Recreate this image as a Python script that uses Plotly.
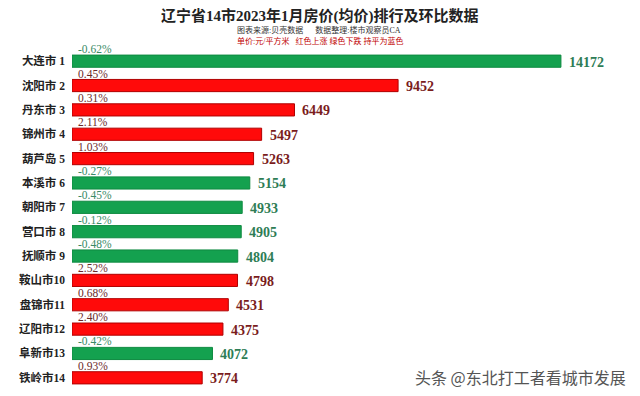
import plotly.graph_objects as go

cities = ["大连市 1", "沈阳市 2", "丹东市 3", "锦州市 4", "葫芦岛 5", "本溪市 6", "朝阳市 7",
          "营口市 8", "抚顺市 9", "鞍山市10", "盘锦市11", "辽阳市12", "阜新市13", "铁岭市14"]
prices = [14172, 9452, 6449, 5497, 5263, 5154, 4933, 4905, 4804, 4798, 4531, 4375, 4072, 3774]
changes = [-0.62, 0.45, 0.31, 2.11, 1.03, -0.27, -0.45, -0.12, -0.48, 2.52, 0.68, 2.40, -0.42, 0.93]

GREEN = "#14a14f"
RED = "#ff0a0a"
bar_colors = [GREEN if c < 0 else RED for c in changes]
line_colors = ["#0e8a40" if c < 0 else "#b00000" for c in changes]
val_colors = ["#2e7d55" if c < 0 else "#7a1c1c" for c in changes]
pct_colors = ["#3a8a66" if c < 0 else "#6b2a2a" for c in changes]

SERIF = "Liberation Serif, Noto Sans CJK SC, serif"

fig = go.Figure()
fig.add_trace(go.Bar(
    y=cities, x=prices, orientation="h",
    marker=dict(color=bar_colors, line=dict(color=line_colors, width=1)),
    width=0.5, hoverinfo="skip",
))

ann = []
for c, p, ch, vc, pc in zip(cities, prices, changes, val_colors, pct_colors):
    ann.append(dict(x=p, y=c, xref="x", yref="y", text=str(p), showarrow=False,
                    xanchor="left", yanchor="middle", xshift=6, yshift=-1,
                    font=dict(family=SERIF, size=14, color=vc, weight="bold")))
    ann.append(dict(x=0, y=c, xref="x", yref="y", text=f"{ch:.2f}%", showarrow=False,
                    xanchor="left", yanchor="middle", xshift=4, yshift=12,
                    font=dict(family=SERIF, size=11.5, color=pc)))

# page has an 8px body margin; the figure is offset by that amount
OFF = 8
W, H = 640 - OFF, 396 - OFF
ML, MR, MT, MB = 72 - OFF, 0, 49 - OFF, 6

def px(x, y):
    x -= OFF; y -= OFF
    return (x - ML) / (W - ML - MR), 1 - (y - MT) / (H - MT - MB)

for (x, y, text, font, xa) in [
    (320, 16, "<b>辽宁省14市2023年1月房价(均价)排行及环比数据</b>", dict(family=SERIF, size=15, color="#222222"), "center"),
    (319, 30, "图表来源:贝壳数据&nbsp;&nbsp;&nbsp;&nbsp;&nbsp;&nbsp;数据整理:楼市观察员CA", dict(family=SERIF, size=8, color="#333333"), "center"),
    (320, 41, "单价:元/平方米&nbsp;&nbsp;&nbsp;红色上涨 绿色下跌 持平为蓝色", dict(family=SERIF, size=8, color="#c00000"), "center"),
    (628, 377, "头条 @东北打工者看城市发展", dict(family="Noto Sans CJK SC", size=16, color="#555555"), "right"),
]:
    xp, yp = px(x, y)
    ann.append(dict(x=xp, y=yp, xref="paper", yref="paper", text=text, showarrow=False,
                    xanchor=xa, yanchor="middle", font=font))

fig.update_layout(
    width=W, height=H,
    margin=dict(l=ML, r=MR, t=MT, b=MB, autoexpand=False),
    paper_bgcolor="white", plot_bgcolor="white",
    showlegend=False,
    xaxis=dict(range=[0, 16464], visible=False, fixedrange=True, automargin=False),
    yaxis=dict(range=[13.5, -0.5], automargin=False, showgrid=False, zeroline=False, showline=False,
               ticks="", ticklabelstandoff=6,
               tickfont=dict(family=SERIF, size=11.5, color="#222222", weight="bold")),
    annotations=ann,
)
fig.write_html("out.html")
